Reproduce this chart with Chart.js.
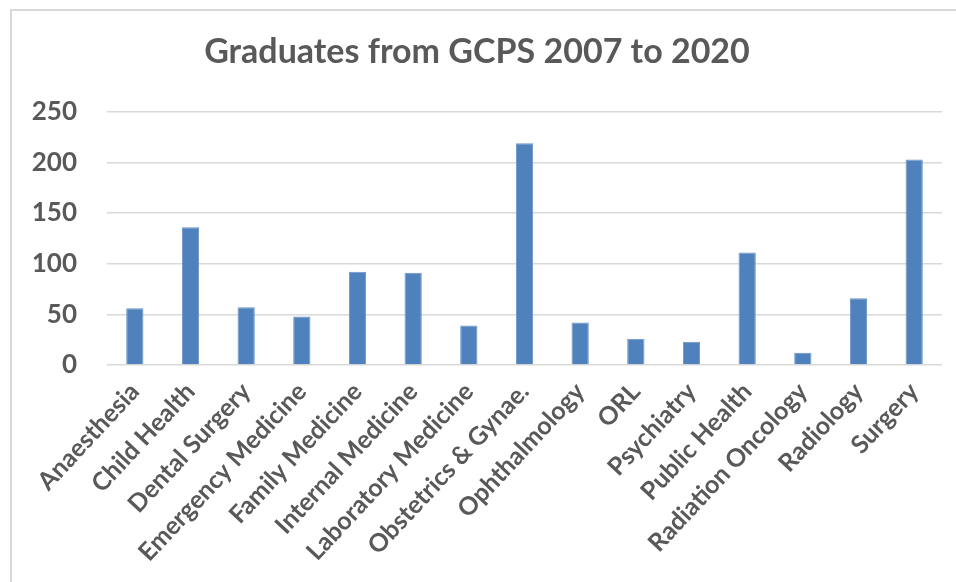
<!DOCTYPE html>
<html>
<head>
<meta charset="utf-8">
<title>Graduates from GCPS 2007 to 2020</title>
<script src="https://cdn.jsdelivr.net/npm/chart.js@4/dist/chart.umd.min.js"></script>
<style>
    body { margin: 0; background: #fff; overflow: hidden; }
    #wrap { position: relative; width: 956px; height: 582px; }
    #frame {
        position: absolute; left: 10px; top: 9px; width: 960px; height: 600px;
        border: 2px solid #d9d9d9; pointer-events: none;
    }
</style>
</head>
<body>
<div id="wrap">
    <canvas id="gradChart" width="956" height="582"></canvas>
    <div id="frame"></div>
</div>
<script>
    // specialties and number of graduates
    const specialties = [
        'Anaesthesia', 'Child Health', 'Dental Surgery', 'Emergency Medicine',
        'Family Medicine', 'Internal Medicine', 'Laboratory Medicine',
        'Obstetrics & Gynae.', 'Ophthalmology', 'ORL', 'Psychiatry',
        'Public Health', 'Radiation Oncology', 'Radiology', 'Surgery'
    ];
    const graduates = [56, 136, 57, 48, 92, 91, 39, 219, 42, 26, 23, 111, 12, 66, 203];
    const yTicks = [0, 50, 100, 150, 200, 250];

    const textColor = '#595959';
    const fontFamily = 'Lato, "Open Sans", sans-serif';

    const ctx = document.getElementById('gradChart').getContext('2d');
    new Chart(ctx, {
        type: 'bar',
        data: {
            labels: specialties,
            datasets: [{
                label: 'Graduates',
                data: graduates,
                backgroundColor: '#4f81bd',
                borderColor: '#6a93c6',
                borderWidth: 1,
                barPercentage: 0.31,
                categoryPercentage: 1
            }]
        },
        options: {
            responsive: false,
            animation: false,
            layout: { padding: { left: 12, right: 14, top: 10, bottom: 0 } },
            plugins: {
                legend: { display: false },
                tooltip: { enabled: false },
                title: {
                    display: true,
                    text: 'Graduates from GCPS 2007 to 2020',
                    color: textColor,
                    font: { family: fontFamily, size: 34, weight: 'bold' },
                    padding: { top: 22, bottom: 39 }
                }
            },
            scales: {
                x: {
                    grid: { display: false },
                    border: { display: false },
                    ticks: {
                        color: textColor,
                        font: { family: fontFamily, size: 25, weight: 'bold' },
                        maxRotation: 47,
                        minRotation: 47,
                        padding: 4,
                        autoSkip: false
                    },
                    afterFit: function (scale) { scale.height = 217; }
                },
                y: {
                    min: 0,
                    max: 250,
                    afterBuildTicks: function (scale) {
                        scale.ticks = yTicks.map(function (v) { return { value: v }; });
                    },
                    grid: { color: '#d9d9d9', lineWidth: 1.5, drawTicks: false },
                    border: { display: false },
                    ticks: {
                        color: textColor,
                        font: { family: fontFamily, size: 26, weight: 'bold' },
                        padding: 30
                    },
                    afterFit: function (scale) { scale.width = 95; }
                }
            }
        }
    });
</script>
</body>
</html>
